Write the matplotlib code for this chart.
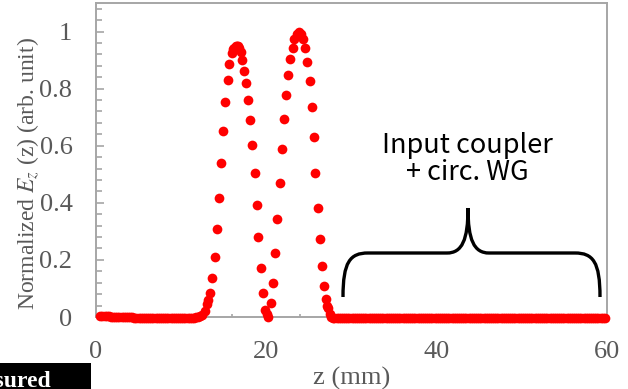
import numpy as np
import matplotlib
matplotlib.use("Agg")
import matplotlib.pyplot as plt
from matplotlib.path import Path
from matplotlib.patches import PathPatch, Rectangle
from matplotlib.ticker import MultipleLocator, FixedLocator, FixedFormatter

plt.rcParams['mathtext.fontset'] = 'stix'

# ---- data ----
base_left_z = np.arange(0.5, 12.01, 0.25)
base_left_y = [0.003, 0.003, 0.002, 0.002, 0.002, 0.001, 0.001, 0.001, 0.000, 0.000,
               0.000, -0.001, -0.001, -0.001, -0.001, -0.001, -0.002, -0.002, -0.002, -0.002,
               -0.002, -0.002, -0.003, -0.003, -0.003, -0.003, -0.003, -0.003, -0.003, -0.003,
               -0.003, -0.003, -0.003, -0.003, -0.003, -0.003, -0.003, -0.003, -0.003, -0.003,
               -0.003, -0.003, -0.003, -0.002, -0.002, -0.001, 0.000]

peak_z = [12.25, 12.5, 12.75, 13.0, 13.2, 13.38, 13.65, 13.93, 14.16, 14.40,
          14.63, 14.91, 15.18, 15.46, 15.65, 15.93, 16.1, 16.24, 16.4, 16.51,
          16.65, 16.78, 17.02, 17.2, 17.41, 17.65, 17.84, 18.08, 18.35, 18.62,
          18.86, 19.08, 19.35, 19.60, 19.84, 20.05, 20.2, 20.6, 20.8, 21.03,
          21.3, 21.56, 21.83, 22.07, 22.30, 22.57, 22.81, 23.08, 23.3, 23.55,
          23.8, 24.05, 24.3, 24.5, 24.77, 25.08, 25.31, 25.55, 25.74, 26.06,
          26.33, 26.53, 26.76, 26.96, 27.1, 27.27, 27.45, 27.65, 27.85]
peak_y = [0.002, 0.008, 0.020, 0.045, 0.060, 0.085, 0.138, 0.211, 0.307, 0.418,
          0.539, 0.653, 0.753, 0.832, 0.887, 0.925, 0.940, 0.944, 0.950, 0.950,
          0.948, 0.942, 0.927, 0.900, 0.863, 0.819, 0.761, 0.690, 0.603, 0.504,
          0.392, 0.281, 0.173, 0.083, 0.024, 0.010, 0.001, 0.048, 0.120, 0.223,
          0.345, 0.468, 0.587, 0.692, 0.777, 0.849, 0.904, 0.942, 0.975, 0.990,
          1.000, 0.990, 0.975, 0.942, 0.893, 0.828, 0.735, 0.631, 0.506, 0.383,
          0.272, 0.178, 0.109, 0.062, 0.040, 0.030, 0.012, 0.001, -0.003]

tail_z = np.arange(28.0, 59.76, 0.25)
tail_y = [-0.004, -0.004, -0.004, -0.005, -0.005, -0.004, -0.004, -0.004, -0.005, -0.005, -0.004, -0.004, -0.004, -0.004, -0.005, -0.005,
          -0.005, -0.004, -0.004, -0.004, -0.004, -0.005, -0.005, -0.004, -0.004, -0.004, -0.004, -0.005, -0.005, -0.004, -0.004, -0.004,
          -0.004, -0.004, -0.005, -0.005, -0.004, -0.004, -0.004, -0.004, -0.005, -0.005, -0.004, -0.004, -0.004, -0.005, -0.005, -0.004,
          -0.004, -0.004, -0.004, -0.005, -0.005, -0.004, -0.004, -0.004, -0.004, -0.005, -0.005, -0.004, -0.004, -0.004, -0.004, -0.005,
          -0.005, -0.004, -0.004, -0.004, -0.004, -0.005, -0.005, -0.004, -0.004, -0.004, -0.004, -0.005, -0.005, -0.004, -0.004, -0.004,
          -0.004, -0.005, -0.005, -0.004, -0.004, -0.004, -0.004, -0.005, -0.005, -0.004, -0.004, -0.004, -0.004, -0.005, -0.005, -0.004,
          -0.004, -0.004, -0.004, -0.005, -0.005, -0.004, -0.004, -0.004, -0.004, -0.005, -0.005, -0.004, -0.004, -0.004, -0.004, -0.005,
          -0.005, -0.004, -0.004, -0.004, -0.004, -0.005, -0.005, -0.004, -0.004, -0.004, -0.004, -0.005, -0.005, -0.004, -0.004, -0.004]

z = np.concatenate([base_left_z, peak_z, tail_z])
ez = np.concatenate([base_left_y, peak_y, tail_y])
assert len(base_left_z) == len(base_left_y)
assert len(peak_z) == len(peak_y)
assert len(tail_z) == len(tail_y)

x_ticks = [0, 20, 40, 60]
y_ticks = [0, 0.2, 0.4, 0.6, 0.8, 1.0]
y_tick_labels = ["0", "0.2", "0.4", "0.6", "0.8", "1"]

# ---- figure ----
W, H = 628, 389
fig = plt.figure(figsize=(W / 100, H / 100), dpi=100)
L, R, T, B = 96, 607, 3, 317
ax = fig.add_axes([L / W, 1 - B / H, (R - L) / W, (B - T) / H])

ax.plot(z, ez, 'o', color='#ff0000', markersize=7.0, markeredgewidth=0, clip_on=False, zorder=3)

ax.set_xlim(0, 60)
ax.set_ylim(0, 1.1)

grey = '#a6a6a6'
for s in ax.spines.values():
    s.set_color(grey)
    s.set_linewidth(1.4)

ax.xaxis.set_major_locator(FixedLocator(x_ticks))
ax.xaxis.set_minor_locator(MultipleLocator(4))
ax.yaxis.set_major_locator(FixedLocator(y_ticks))
ax.yaxis.set_major_formatter(FixedFormatter(y_tick_labels))
ax.yaxis.set_minor_locator(MultipleLocator(0.04))

ax.tick_params(axis='y', which='major', direction='in', length=6, width=1.2, color=grey,
               labelcolor='#595959', labelsize=19, pad=17)
ax.tick_params(axis='y', which='minor', direction='in', length=4.5, width=1.2, color=grey)
ax.tick_params(axis='x', which='major', direction='in', length=2.5, width=1.2, color=grey,
               labelcolor='#595959', labelsize=19, pad=17)
ax.tick_params(axis='x', which='minor', direction='in', length=2.5, width=1.2, color=grey)
for lab in ax.get_xticklabels() + ax.get_yticklabels():
    lab.set_fontfamily('Liberation Serif')

ax.set_ylabel(r"Normalized $E_z$ (z) (arb. unit)", family='Liberation Serif', size=17, color='#595959')
ax.yaxis.label.set_verticalalignment('center')
ax.yaxis.set_label_coords((28 - L) / (R - L), (B - 174) / (B - T))
ax.set_xlabel("z (mm)", family='Liberation Serif', size=19, color='#595959')
ax.xaxis.label.set_verticalalignment('center')
ax.xaxis.set_label_coords(0.5, (B - 378) / (B - T))

# annotation text
ax.text((467 - L) / (R - L), (B - 159) / (B - T), "Input coupler\n+ circ. WG",
        transform=ax.transAxes, ha='center', va='center', multialignment='center',
        family=['Noto Sans CJK JP', 'DejaVu Sans'], size=19.5, color='black', linespacing=1.0)

# curly brace (reference pixel geometry -> axes fraction)
def P(px, py):
    return ((px - L) / (R - L), (B - py) / (B - T))

verts = [P(343, 297), P(343, 262), P(350, 253), P(368, 253),
         P(447, 253),
         P(462, 253), P(468, 240), P(468, 208),
         P(468, 240), P(474, 253), P(489, 253),
         P(575, 253),
         P(593, 253), P(600, 262), P(600, 297)]
codes = [Path.MOVETO, Path.CURVE4, Path.CURVE4, Path.CURVE4,
         Path.LINETO,
         Path.CURVE4, Path.CURVE4, Path.CURVE4,
         Path.CURVE4, Path.CURVE4, Path.CURVE4,
         Path.LINETO,
         Path.CURVE4, Path.CURVE4, Path.CURVE4]
ax.add_patch(PathPatch(Path(verts, codes), transform=ax.transAxes, facecolor='none',
                       edgecolor='black', linewidth=2.4, zorder=4))

# partial legend box at bottom-left
fig.patches.append(Rectangle((0, 0), 91 / W, 26 / H, transform=fig.transFigure,
                             facecolor='black', edgecolor='none'))
fig.text(51 / W, 1 - 371 / H, "Measured", ha='right', va='top', color='white',
         family='Liberation Serif', weight='bold', size=17)

fig.savefig("out.png", dpi=100)
